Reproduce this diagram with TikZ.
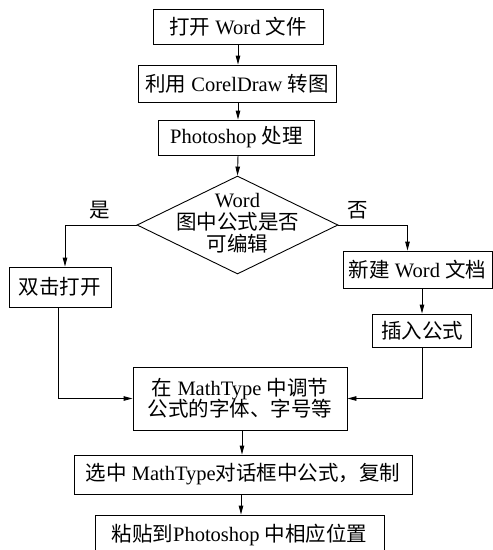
\documentclass[tikz,border=0pt]{standalone}
\usepackage{fontspec}
\setmainfont{Liberation Serif}
\newfontfamily\cjk{Noto Sans CJK SC}
\newcommand\zh[1]{{\cjk #1}}
\usetikzlibrary{arrows.meta,shapes.geometric}
\begin{document}
\begin{tikzpicture}[x=1pt,y=-1pt,
  every node/.style={font=\fontsize{20.5}{22}\selectfont},
  box/.style={draw,line width=0.9pt,inner sep=0pt,align=center},
  arr/.style={line width=0.9pt,-{Triangle[length=9pt,width=4.5pt]}},
  conn/.style={line width=0.9pt}]
\useasboundingbox (0,0) rectangle (493,550);
\clip (0,0) rectangle (493,550);
\node[box,minimum width=170pt,minimum height=35pt] (b1) at (238,26.5) {\zh{打开} Word \zh{文件}};
\node[box,minimum width=198pt,minimum height=37pt] (b2) at (237,83.5) {\zh{利用} CorelDraw \zh{转图}};
\node[box,minimum width=156pt,minimum height=35pt] (b3) at (236.5,137.5) {Photoshop \zh{处理}};
\node[diamond,draw,line width=0.9pt,inner sep=0pt,minimum width=201pt,minimum height=98pt] (dia) at (237.5,225) {};
\node[align=center,inner sep=0pt] (diat) at (237.5,223) {Word\\\zh{图中公式是否}\\\zh{可编辑}};
\node (yes) at (100,210) {\zh{是}};
\node (no) at (358,210) {\zh{否}};
\node[box,minimum width=102pt,minimum height=40pt] (dbl) at (60,287) {\zh{双击打开}};
\node[box,minimum width=149pt,minimum height=37pt] (new) at (417.5,269.5) {\zh{新建} Word \zh{文档}};
\node[box,minimum width=99pt,minimum height=33pt] (ins) at (422,330.5) {\zh{插入公式}};
\node[box,minimum width=214pt,minimum height=63pt] (mt) at (240,398.5) {\zh{在} MathType \zh{中调节}\\[-1pt]\zh{公式的字体、字号等}};
\node[box,minimum width=338pt,minimum height=39pt] (sel) at (243,474.5) {\zh{选中} MathType\zh{对话框中公式，复制}};
\node[box,minimum width=289pt,minimum height=40pt] (paste) at (239.5,535) {\zh{粘贴到}Photoshop \zh{中相应位置}};
\draw[arr] (b1.south -| 238,0) -- (b2.north -| 238,0);
\draw[arr] (b2.south -| 238,0) -- (b3.north -| 238,0);
\draw[arr] (b3.south -| 238,0) -- (dia.north);
\draw[arr] (dia.west) -| ([xshift=5pt]dbl.north);
\draw[arr] (dia.east) -| ([xshift=-10pt]new.north);
\draw[arr] (new.south -| ins.north) -- (ins.north);
\draw[arr] ([xshift=-2pt]dbl.south) |- (mt.west);
\draw[arr] (ins.south) |- (mt.east);
\draw[arr] ([xshift=2pt]mt.south) -- ([xshift=2pt]mt.south |- sel.north);
\draw[arr] ([xshift=-2pt]sel.south) -- ([xshift=-2pt]sel.south |- paste.north);
\end{tikzpicture}
\end{document}
